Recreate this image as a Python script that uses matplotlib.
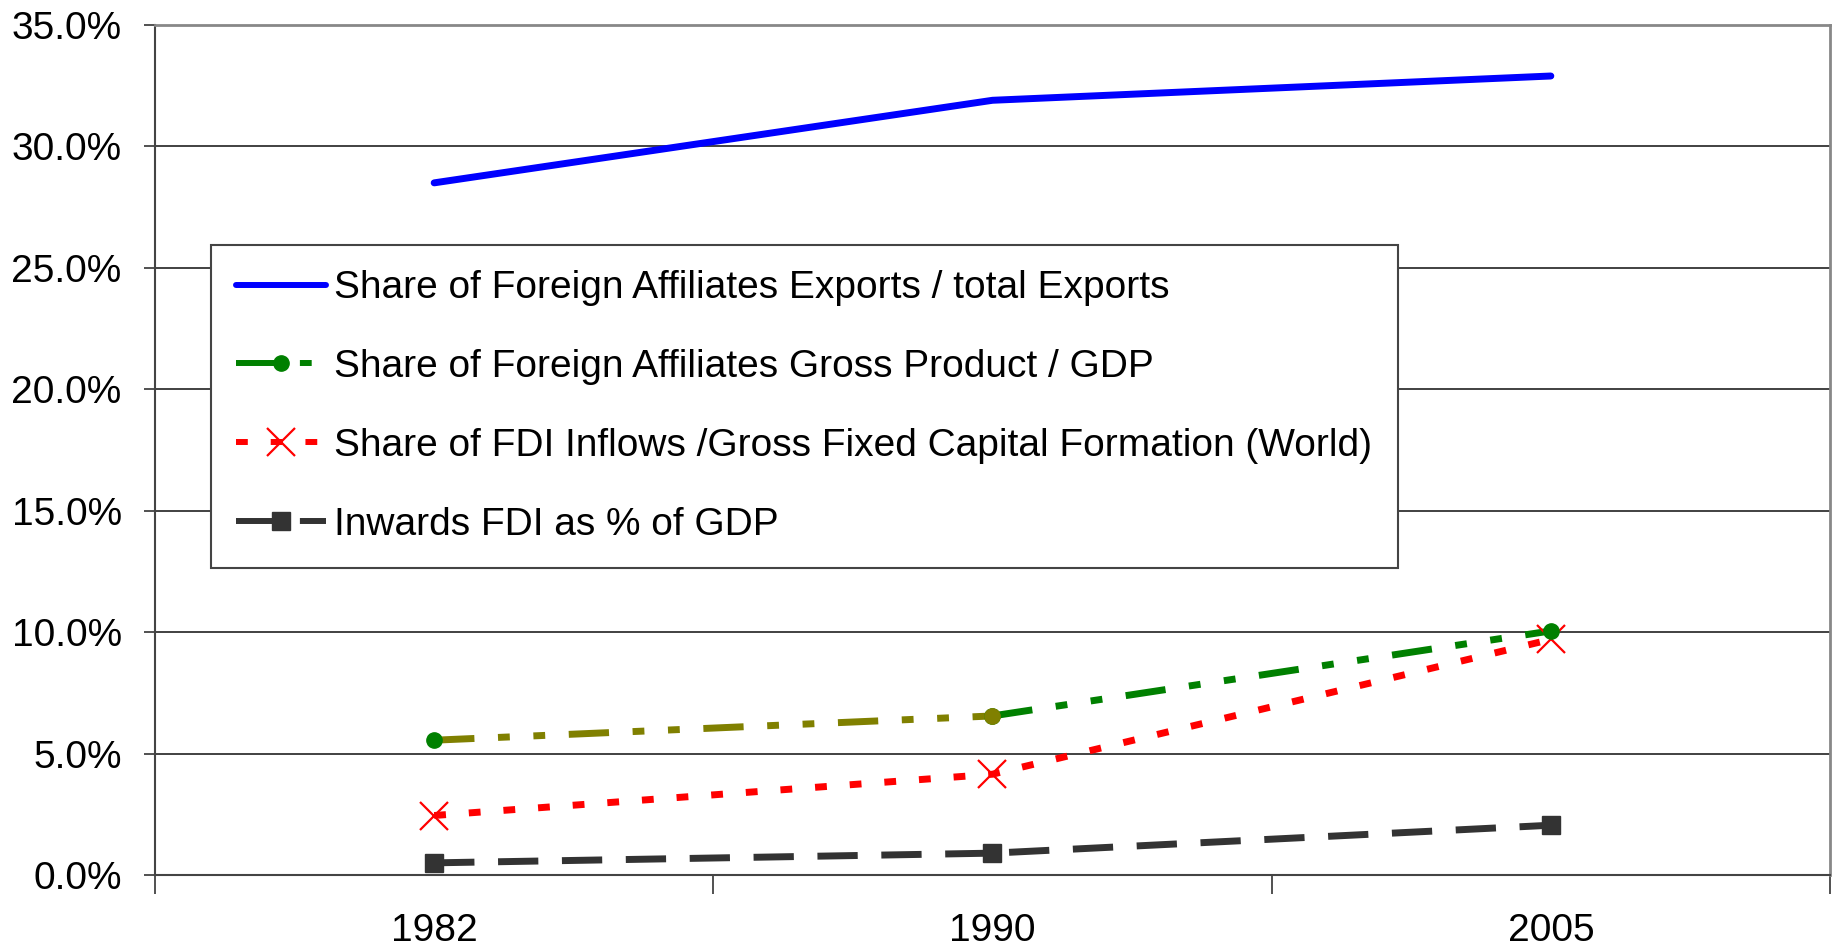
import matplotlib
matplotlib.use('Agg')
import matplotlib.pyplot as plt
from matplotlib.lines import Line2D
from matplotlib.ticker import FixedLocator, PercentFormatter

plt.rcParams['font.family'] = ['Liberation Sans', 'DejaVu Sans']
plt.rcParams['lines.scale_dashes'] = False

# data (percent)
years = ['1982', '1990', '2005']
exports_share = [28.5, 31.9, 32.9]
gross_product_share = [5.55, 6.55, 10.05]
fdi_gfcf_share = [2.45, 4.15, 9.7]
inward_fdi_gdp = [0.5, 0.9, 2.05]

labels = ['Share of Foreign Affiliates Exports / total Exports',
          'Share of Foreign Affiliates Gross Product / GDP',
          'Share of FDI Inflows /Gross Fixed Capital Formation (World)',
          'Inwards FDI as % of GDP']

x = list(range(len(years)))

fig = plt.figure(figsize=(18.32, 9.46), dpi=100)
ax = fig.add_axes([155 / 1832, 1 - 875 / 946, 1675 / 1832, 850 / 946])

lw = 5
# dash patterns in points (Excel style: long-dash-dot-dot, square dot, dash)
green_dash = (0, (29, 17, 8.5, 17, 8.5, 17))
red_dash = (0, (8.5, 16.5))
black_dash = (0, (29, 17))

# blue line
ax.plot(x, exports_share, color='#0000FF', lw=lw, solid_capstyle='round', zorder=5)

# green line, first segment is olive in the original
ax.plot(x[:2], gross_product_share[:2], color='#808000', lw=lw, linestyle=green_dash, zorder=4)
ax.plot(x[1:], gross_product_share[1:], color='#008000', lw=lw, linestyle=green_dash, zorder=4)
ax.plot(x, gross_product_share, linestyle='none', marker='o', markersize=11,
        markerfacecolor='#008000', markeredgecolor='#008000', zorder=6)
ax.plot(x[1], gross_product_share[1], linestyle='none', marker='o', markersize=11,
        markerfacecolor='#808000', markeredgecolor='#808000', zorder=7)

# red line
ax.plot(x, fdi_gfcf_share, color='#FF0000', lw=lw, linestyle=red_dash,
        marker='x', markersize=20, markeredgewidth=1.6, zorder=4)

# dark line
ax.plot(x, inward_fdi_gdp, color='#333333', lw=lw, linestyle=black_dash,
        marker='s', markersize=13, zorder=4)

ax.set_xlim(-0.5, 2.5)
ax.set_ylim(0, 35)
ax.yaxis.set_major_locator(FixedLocator([0, 5, 10, 15, 20, 25, 30, 35]))
ax.yaxis.set_major_formatter(PercentFormatter(decimals=1))
ax.set_xticks(x)
ax.set_xticklabels(years)
ax.set_xticks([-0.5, 0.5, 1.5, 2.5], minor=True)
ax.tick_params(axis='x', which='major', length=0, pad=27, labelsize=28)
ax.tick_params(axis='x', which='minor', length=13.5, width=1.2, color='#333333')
ax.tick_params(axis='y', length=8, width=1.2, color='#333333', pad=16, labelsize=28)

ax.grid(axis='y', color='#333333', lw=1.3)
ax.set_axisbelow(True)
for side in ['top', 'right']:
    ax.spines[side].set_color('#888888')
    ax.spines[side].set_linewidth(2)
for side in ['left', 'bottom']:
    ax.spines[side].set_color('#444444')
    ax.spines[side].set_linewidth(1.5)

hlw = 4.3
handles = [
    Line2D([], [], color='#0000FF', lw=hlw, solid_capstyle='round'),
    Line2D([], [], color='#008000', lw=hlw, linestyle=green_dash, marker='o', markersize=11),
    Line2D([], [], color='#FF0000', lw=hlw, linestyle=red_dash, marker='x',
           markersize=20, markeredgewidth=1.6),
    Line2D([], [], color='#333333', lw=hlw, linestyle=black_dash, marker='s', markersize=13),
]
leg = ax.legend(handles, labels, loc='upper left', bbox_to_anchor=(211 / 1832, 1 - 245 / 946),
                bbox_transform=fig.transFigure, fontsize=28, frameon=True, fancybox=False,
                edgecolor='#444444', framealpha=1, handlelength=2.3, labelspacing=1.1,
                borderpad=0.65, handletextpad=0.22, borderaxespad=0)
leg.get_frame().set_linewidth(1.5)

plt.savefig('out.png', dpi=100)
